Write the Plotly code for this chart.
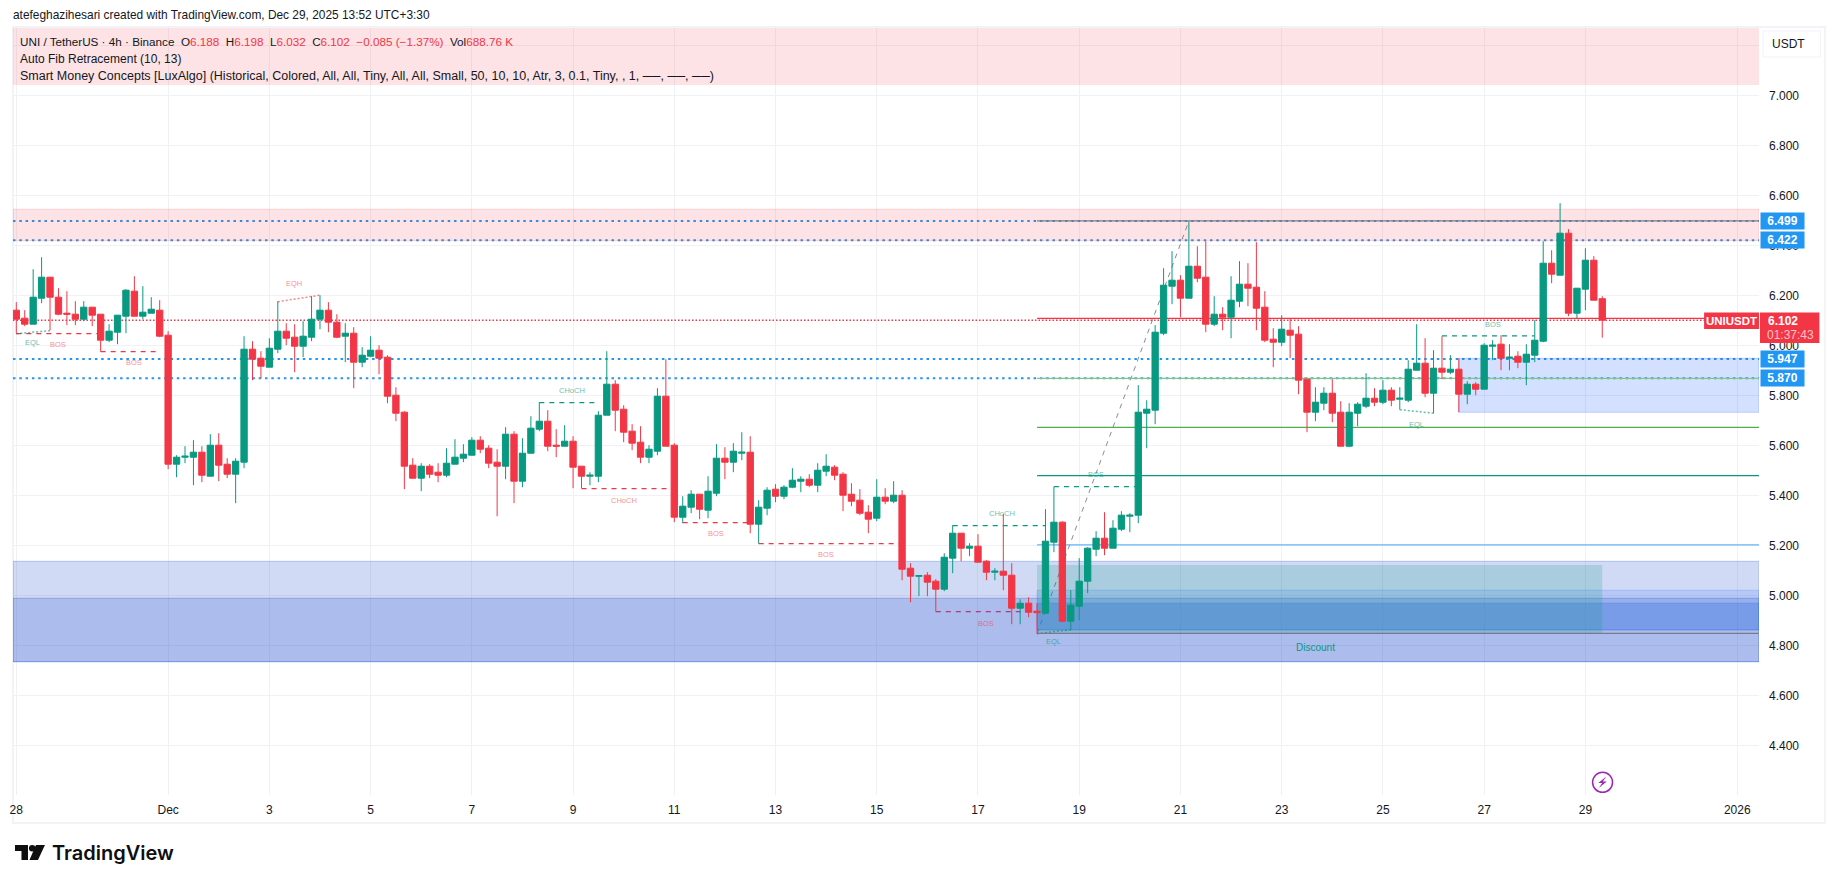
import plotly.graph_objects as go

# 4h candles, UNI/USDT, oldest first
opens = [6.142,6.110,6.086,6.190,6.274,6.194,6.130,6.126,6.106,6.154,6.126,6.022,6.054,6.118,6.218,6.118,6.130,6.142,6.042,5.526,
         5.554,5.554,5.574,5.478,5.602,5.526,5.486,5.534,5.986,5.950,5.914,5.986,6.058,6.034,5.998,6.034,6.106,6.142,6.094,6.038,
         6.050,5.934,5.958,5.982,5.954,5.802,5.734,5.522,5.470,5.518,5.494,5.482,5.526,5.550,5.562,5.622,5.590,5.534,5.518,5.646,
         5.458,5.570,5.666,5.698,5.602,5.598,5.618,5.518,5.478,5.478,5.722,5.846,5.746,5.658,5.614,5.554,5.578,5.798,5.602,5.314,
         5.354,5.406,5.342,5.410,5.550,5.534,5.570,5.574,5.286,5.350,5.426,5.398,5.434,5.458,5.466,5.442,5.498,5.514,5.486,5.406,
         5.382,5.334,5.310,5.394,5.378,5.402,5.110,5.078,5.082,5.058,5.026,5.150,5.250,5.190,5.198,5.138,5.094,5.098,5.082,4.950,
         4.970,4.938,4.930,5.214,5.294,4.898,4.958,5.058,5.186,5.230,5.190,5.266,5.318,5.322,5.730,5.742,6.050,6.238,6.262,6.190,
         6.318,6.274,6.086,6.126,6.114,6.178,6.246,6.234,6.154,6.026,6.014,6.062,6.046,5.866,5.734,5.770,5.810,5.734,5.598,5.730,
         5.758,5.790,5.774,5.822,5.786,5.782,5.902,5.930,5.810,5.910,5.894,5.906,5.806,5.846,5.826,5.998,6.006,5.950,5.958,5.934,
         5.962,6.018,6.330,6.282,6.450,6.130,6.226,6.342,6.188]
highs = [6.174,6.142,6.306,6.354,6.274,6.230,6.218,6.178,6.178,6.154,6.126,6.086,6.122,6.226,6.278,6.238,6.194,6.182,6.058,5.562,
         5.598,5.622,5.598,5.646,5.650,5.550,5.550,6.038,6.018,5.978,6.030,6.178,6.090,6.086,6.098,6.198,6.202,6.174,6.126,6.090,
         6.074,5.994,6.038,6.002,5.962,5.834,5.738,5.550,5.530,5.526,5.530,5.590,5.626,5.606,5.634,5.638,5.602,5.586,5.674,5.658,
         5.630,5.718,5.774,5.742,5.666,5.682,5.638,5.518,5.494,5.738,5.978,5.862,5.762,5.686,5.678,5.602,5.830,5.946,5.610,5.398,
         5.422,5.406,5.478,5.606,5.594,5.610,5.654,5.638,5.382,5.434,5.446,5.442,5.510,5.478,5.486,5.530,5.566,5.522,5.494,5.450,
         5.426,5.362,5.466,5.430,5.458,5.422,5.130,5.082,5.094,5.066,5.170,5.282,5.250,5.210,5.246,5.142,5.110,5.326,5.130,4.986,
         4.994,4.970,5.346,5.436,5.298,5.022,5.150,5.194,5.258,5.334,5.302,5.338,5.330,5.842,5.782,6.082,6.310,6.378,6.282,6.498,
         6.398,6.418,6.198,6.154,6.278,6.338,6.330,6.414,6.218,6.070,6.122,6.110,6.078,5.866,5.834,5.834,5.866,5.778,5.770,5.774,
         5.890,5.830,5.862,5.834,5.834,5.942,6.086,6.030,5.982,6.038,5.962,5.950,5.858,5.854,6.010,6.022,6.042,6.006,5.978,6.006,
         6.102,6.418,6.382,6.570,6.466,6.230,6.390,6.358,6.198]
lows = [6.048,6.078,6.086,6.170,6.062,6.122,6.082,6.082,6.098,6.078,5.976,6.014,6.006,6.050,6.118,6.106,6.130,6.034,5.506,5.474,
        5.530,5.442,5.454,5.478,5.458,5.470,5.370,5.510,5.862,5.870,5.914,5.970,6.002,5.894,5.954,6.018,6.066,6.054,6.030,5.934,
        5.830,5.914,5.954,5.886,5.770,5.698,5.426,5.470,5.418,5.470,5.454,5.474,5.526,5.534,5.562,5.570,5.510,5.318,5.466,5.370,
        5.434,5.570,5.658,5.578,5.554,5.598,5.430,5.430,5.442,5.454,5.722,5.658,5.614,5.582,5.530,5.530,5.562,5.598,5.294,5.290,
        5.330,5.306,5.310,5.398,5.466,5.494,5.542,5.250,5.208,5.322,5.374,5.386,5.430,5.414,5.434,5.414,5.478,5.462,5.338,5.358,
        5.322,5.250,5.298,5.366,5.370,5.062,4.974,4.998,4.998,4.936,5.018,5.090,5.138,5.158,5.134,5.062,5.062,5.022,4.886,4.886,
        4.914,4.848,4.930,5.174,4.894,4.862,4.902,5.010,5.158,5.162,5.190,5.258,5.254,5.290,5.590,5.686,6.042,6.166,6.114,6.190,
        6.254,6.054,6.078,6.062,6.030,6.154,6.158,6.062,6.014,5.914,5.998,5.950,5.806,5.654,5.698,5.742,5.694,5.598,5.594,5.678,
        5.750,5.758,5.766,5.758,5.744,5.774,5.902,5.794,5.730,5.866,5.886,5.734,5.766,5.802,5.826,5.942,5.902,5.902,5.910,5.842,
        5.934,6.014,6.250,6.282,6.118,6.110,6.142,6.182,6.032]
closes = [6.106,6.086,6.194,6.274,6.194,6.126,6.126,6.106,6.154,6.122,6.022,6.058,6.122,6.222,6.118,6.134,6.146,6.038,5.526,5.554,
          5.558,5.574,5.482,5.602,5.522,5.486,5.538,5.986,5.946,5.918,5.990,6.058,6.030,5.998,6.038,6.106,6.142,6.094,6.034,6.050,
          5.934,5.962,5.982,5.950,5.798,5.730,5.518,5.470,5.518,5.486,5.482,5.530,5.554,5.566,5.622,5.586,5.530,5.518,5.646,5.458,
          5.570,5.670,5.698,5.598,5.598,5.618,5.514,5.478,5.482,5.722,5.846,5.742,5.654,5.610,5.554,5.586,5.798,5.598,5.314,5.358,
          5.406,5.346,5.418,5.550,5.534,5.578,5.574,5.286,5.354,5.422,5.398,5.434,5.462,5.466,5.442,5.502,5.518,5.482,5.402,5.378,
          5.330,5.306,5.394,5.378,5.402,5.106,5.078,5.080,5.054,5.026,5.154,5.250,5.190,5.198,5.134,5.094,5.098,5.082,4.950,4.970,
          4.934,4.932,5.218,5.294,4.898,4.962,5.058,5.190,5.230,5.190,5.270,5.322,5.322,5.734,5.746,6.054,6.242,6.262,6.190,6.318,
          6.270,6.086,6.126,6.114,6.182,6.246,6.230,6.150,6.022,6.014,6.066,6.042,5.862,5.734,5.774,5.810,5.730,5.598,5.734,5.766,
          5.790,5.774,5.822,5.782,5.790,5.906,5.930,5.810,5.910,5.894,5.906,5.806,5.846,5.826,6.002,6.002,5.950,5.954,5.934,5.966,
          6.022,6.330,6.286,6.450,6.130,6.230,6.342,6.182,6.102]
bars = list(range(len(opens)))

# Axes
x_ticks = [0, 18] + list(range(30, 187, 12)) + [204]
x_labels = ["28", "Dec", "3", "5", "7", "9", "11", "13", "15", "17", "19", "21", "23", "25", "27", "29", "2026"]
y_ticks = [4.4, 4.6, 4.8, 5.0, 5.2, 5.4, 5.6, 5.8, 6.0, 6.2, 6.4, 6.6, 6.8, 7.0, 7.2]
y_labels = ["4.400", "4.600", "4.800", "5.000", "5.200", "5.400", "5.600", "5.800", "6.000", "6.200",
            "6.400", "6.600", "6.800", "7.000", ""]
X_RANGE = [-0.39, 206.58]
Y_RANGE = [4.2028, 7.2708]

# Key levels from the indicators
blue_levels = [6.499, 6.422, 5.947, 5.870]
last_price = 6.102

# Auto Fib: anchors, then the retracement levels and their colours
fib_start_bar, fib_low = 121, 4.848
fib_end_bar, fib_high = 139, 6.499
fib_box_end_bar = 188
fib_prices = [6.499, 6.109, 5.869, 5.673, 5.480, 5.203, 4.849]
fib_colors = ["#787b86", "#f23645", "#81c784", "#4caf50", "#089981", "#64b5f6", "#787b86"]

# Structure breaks: first bar, last bar, price, colour key
struct_start = [0, 10, 62, 67, 79, 88, 109, 111, 123, 169]
struct_end = [10, 17, 69, 78, 87, 105, 121, 122, 133, 180]
struct_price = [6.048, 5.976, 5.772, 5.428, 5.292, 5.208, 4.936, 5.280, 5.436, 6.039]
struct_side = ["r", "r", "g", "r", "r", "r", "r", "g", "g", "g"]

# Equal highs / lows
eq_start = [0, 31, 121, 164]
eq_end = [4, 36, 125, 168]
eq_p0 = [6.048, 6.176, 4.848, 5.744]
eq_p1 = [6.060, 6.202, 4.864, 5.730]
eq_side = ["g", "r", "g", "g"]

# Small structure captions
tag_bar = [4.9, 1.9, 13.9, 32.9, 65.9, 72, 83, 96, 116.9, 114.9, 128, 123, 166, 175]
tag_price = [6.004, 6.011, 5.932, 6.248, 5.820, 5.380, 5.248, 5.164, 5.328, 4.888, 5.484, 4.816, 5.685, 6.085]
tag_text = ["BOS", "EQL", "BOS", "EQH", "CHoCH", "CHoCH", "BOS", "BOS", "CHoCH", "BOS", "BOS", "EQL", "EQL", "BOS"]
tag_side = ["r", "g", "r", "r", "g", "r", "r", "r", "g", "r", "g", "g", "g", "g"]

RED, GREEN, BLUE = "#f23645", "#089981", "#2196f3"
TEXT = "#131722"
FONT = "Liberation Sans"
SOLID = {"r": RED, "g": GREEN}
FADED = {"r": "rgba(242,54,69,0.6)", "g": "rgba(8,153,129,0.65)"}
W, H = 1835, 883
LEFT, RIGHT, TOP, BOTTOM = 10, 1759, 28, 795


def px(v):
    return (v - LEFT) / (RIGHT - LEFT)


def py(v):
    return (BOTTOM - v) / (BOTTOM - TOP)


def paper_path(points):
    return "M" + " L".join(f"{px(a):.5f},{py(b):.5f}" for a, b in points) + " Z"


def data_rect(x0, x1, y0, y1, fill, edge=None):
    return dict(type="rect", xref="x", yref="y", x0=x0, x1=x1, y0=y0, y1=y1, layer="between",
                fillcolor=fill, line=dict(color=edge or "rgba(0,0,0,0)", width=1))


def data_line(x0, x1, y0, y1, color, width=1, dash="solid"):
    return dict(type="line", xref="x", yref="y", x0=x0, x1=x1, y0=y0, y1=y1, layer="between",
                line=dict(color=color, width=width, dash=dash))


shapes = []

# Structure lines sit under the zones
for a, b, p, s in zip(struct_start, struct_end, struct_price, struct_side):
    shapes.append(data_line(a, b, p, p, SOLID[s], 1.2, "5px,5px"))
for a, b, p0, p1, s in zip(eq_start, eq_end, eq_p0, eq_p1, eq_side):
    shapes.append(data_line(a, b, p0, p1, FADED[s], 1.5, "2px,2px"))
for p in blue_levels:
    shapes.append(data_line(X_RANGE[0], X_RANGE[1], p, p, BLUE, 2, "2.5px,3.8px"))
shapes.append(data_line(X_RANGE[0], X_RANGE[1], last_price, last_price, RED, 1.5, "1.5px,2px"))
shapes.append(data_line(fib_start_bar, fib_end_bar, fib_low, fib_high, "#8a8c95", 1, "5px,5px"))

# Premium and discount zones
shapes.append(data_rect(X_RANGE[0], X_RANGE[1], 7.043, 7.30, "rgba(242,54,69,0.14)"))
shapes.append(data_rect(X_RANGE[0], X_RANGE[1], 6.42, 6.546, "rgba(242,54,69,0.14)", "rgba(242,54,69,0.16)"))
shapes.append(data_rect(X_RANGE[0], X_RANGE[1], 4.736, 5.1376, "rgba(46,87,210,0.22)", "rgba(46,87,210,0.28)"))
shapes.append(data_rect(X_RANGE[0], X_RANGE[1], 4.736, 4.99, "rgba(42,80,205,0.22)", "rgba(42,80,205,0.3)"))
shapes.append(data_rect(fib_start_bar, X_RANGE[1], 4.863, 5.022, "rgba(41,98,255,0.15)", "rgba(41,98,255,0.2)"))
shapes.append(data_rect(fib_start_bar, X_RANGE[1], 4.863, 4.97, "rgba(49,114,218,0.3)", "rgba(49,114,218,0.3)"))
shapes.append(data_rect(fib_start_bar, fib_box_end_bar, 4.849, 5.1228, "rgba(8,153,129,0.2)"))
shapes.append(data_rect(171, X_RANGE[1], 5.7336, 5.9496, "rgba(41,98,255,0.2)", "rgba(41,98,255,0.25)"))

# Fib levels run from the swing low to the right edge
for p, c in zip(fib_prices, fib_colors):
    shapes.append(data_line(fib_start_bar, X_RANGE[1], p, p, c, 1.3))

# Frame around the chart pane
shapes.append(dict(type="rect", xref="paper", yref="paper", x0=px(10), x1=px(1825), y0=py(27), y1=py(823),
                   layer="below", line=dict(color="#f2f3f6", width=2), fillcolor="rgba(0,0,0,0)"))
# Currency button
shapes.append(dict(type="rect", xref="paper", yref="paper", x0=px(1763), x1=px(1820.5), y0=py(31), y1=py(57),
                   layer="above", line=dict(color="#f0f3fa", width=1), fillcolor="#ffffff"))
# Last-price countdown tag
shapes.append(dict(type="rect", xref="paper", yref="paper", x0=px(1760), x1=px(1819.5), y0=py(312.5), y1=py(343),
                   layer="above", line=dict(width=0), fillcolor=RED))
shapes.append(dict(type="rect", xref="paper", yref="paper", x0=px(1704), x1=px(1759), y0=py(312.5), y1=py(329),
                   layer="above", line=dict(width=0), fillcolor=RED))
# Lightning badge
shapes.append(dict(type="circle", xref="paper", yref="paper", x0=px(1592.3), x1=px(1612.3), y0=py(772.3), y1=py(792.3),
                   layer="above", line=dict(color="#9c27b0", width=1.5), fillcolor="#ffffff"))
shapes.append(dict(type="path", xref="paper", yref="paper", layer="above", fillcolor="#9c27b0", line=dict(width=0),
                   path=paper_path([(1606, 776.5), (1598, 783), (1602, 783), (1598.5, 788), (1606.5, 781.5), (1602.5, 781.5)])))
# Wordmark glyph
for pts in ([(12, 845), (25, 845), (25, 860), (18.5, 860), (18.5, 851), (12, 851)],
            [(33, 845), (42, 845), (35, 860), (26.5, 860)]):
    shapes.append(dict(type="path", xref="paper", yref="paper", layer="above", fillcolor="#0f0f0f",
                       line=dict(width=0), path=paper_path(pts)))
shapes.append(dict(type="circle", xref="paper", yref="paper", x0=px(26), x1=px(32.5), y0=py(845), y1=py(851.5),
                   layer="above", fillcolor="#0f0f0f", line=dict(width=0)))


def note(x, y, text, size=12, color=TEXT, xanchor="left", **extra):
    return dict(xref="paper", yref="paper", x=px(x), y=py(y), text=text, showarrow=False, xanchor=xanchor,
                yanchor="middle", align="left", font=dict(family=FONT, size=size, color=color), **extra)


def red(text):
    return f'<span style="color:{RED}">{text}</span>'


annotations = [
    note(8, 15, "atefeghazihesari created with TradingView.com, Dec 29, 2025 13:52 UTC+3:30", 11.9),
    note(15, 41.5, "UNI / TetherUS · 4h · Binance  O" + red("6.188") + "  H" + red("6.198") + "  L" + red("6.032")
         + "  C" + red("6.102") + "  " + red("−0.085 (−1.37%)") + "  Vol" + red("688.76 K"), 11.7),
    note(15, 59, "Auto Fib Retracement (10, 13)", 12),
    note(15, 76, "Smart Money Concepts [LuxAlgo] (Historical, Colored, All, All, Tiny, All, All, Small, 50, 10, 10, "
                 "Atr, 3, 0.1, Tiny, , 1, ──, ──, ──)", 12.5),
    note(1770, 44, "USDT", 12),
    note(1731.5, 320.5, "<b>UNIUSDT</b>", 11.5, "#ffffff", xanchor="center"),
    note(1766, 320.5, "<b>6.102</b>", 12, "#ffffff"),
    note(1765, 335, "01:37:43", 12, "rgba(255,255,255,0.72)"),
    dict(xref="paper", yref="paper", x=px(47), y=py(853), text="TradingView", showarrow=False, xanchor="left",
         yanchor="middle", font=dict(family="Inter", size=20, color="#0f0f0f", weight=600)),
]
for p in blue_levels:
    annotations.append(dict(xref="paper", yref="y", x=px(1760), y=p, xanchor="left", yanchor="middle",
                            text=f"<b>{p:.3f}</b>", showarrow=False, bgcolor=BLUE, width=43, height=16, borderpad=0,
                            align="center", font=dict(family=FONT, size=12, color="#ffffff")))
for b, p, t, s in zip(tag_bar, tag_price, tag_text, tag_side):
    annotations.append(dict(xref="x", yref="y", x=b, y=p, text=t, showarrow=False,
                            font=dict(family=FONT, size=7.5, color=FADED[s])))
annotations.append(dict(xref="x", yref="y", x=154, y=4.792, text="Discount", showarrow=False,
                        font=dict(family=FONT, size=10, color=GREEN)))

fig = go.Figure(go.Candlestick(
    x=bars, open=opens, high=highs, low=lows, close=closes, whiskerwidth=0,
    increasing=dict(line=dict(color=GREEN, width=1), fillcolor=GREEN),
    decreasing=dict(line=dict(color=RED, width=1), fillcolor=RED),
    showlegend=False,
))
fig.update_layout(
    width=W, height=H, autosize=False, paper_bgcolor="#ffffff", plot_bgcolor="#ffffff",
    margin=dict(l=LEFT, r=W - RIGHT, t=TOP, b=H - BOTTOM, pad=0), boxgap=0.25, boxgroupgap=0,
    shapes=shapes, annotations=annotations, font=dict(family=FONT, size=12, color=TEXT),
    xaxis=dict(range=X_RANGE, tickmode="array", tickvals=x_ticks, ticktext=x_labels, showgrid=True,
               gridcolor="#f0f1f4", gridwidth=1, zeroline=False, showline=False, ticks="",
               rangeslider=dict(visible=False), ticklabelstandoff=6,
               tickfont=dict(family=FONT, size=12, color=TEXT)),
    yaxis=dict(range=Y_RANGE, side="right", tickmode="array", tickvals=y_ticks, ticktext=y_labels, showgrid=True,
               gridcolor="#f0f1f4", gridwidth=1, zeroline=False, showline=False, ticks="", ticklabelstandoff=9,
               tickfont=dict(family=FONT, size=12, color=TEXT)),
)
fig.write_html("out.html", config=dict(displayModeBar=False))
